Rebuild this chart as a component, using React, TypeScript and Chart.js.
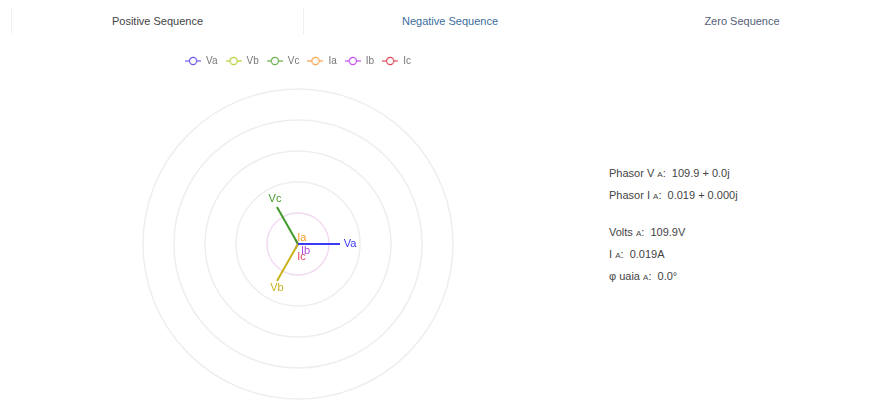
import React, { useEffect, useRef } from "react";
import { Chart, registerables } from "chart.js";

Chart.register(...registerables);

// ---- data ----
const seriesNames = ["Va", "Vb", "Vc", "Ia", "Ib", "Ic"];
const magnitudes = [109.9, 109.9, 109.9, 0.019, 0.019, 0.019];
const anglesDeg = [0, -120, 120, 0, -120, 120];
const isCurrent = [false, false, false, true, true, true];
const ringValues = [80, 160, 240, 320, 400];
const tabs = ["Positive Sequence", "Negative Sequence", "Zero Sequence"];
const infoLines = [
  ["Phasor V", "A", "109.9 + 0.0j"],
  ["Phasor I", "A", "0.019 + 0.000j"],
  ["Volts", "A", "109.9V"],
  ["I", "A", "0.019A"],
  ["φ uaia", "A", "0.0°"],
];

// ---- styles ----
const lineColors = ["#3b3bf5", "#c9b21a", "#3f9a2a", "#f59a2a", "#b04adf", "#e0405a"];
const legendColors = ["#6b5cf0", "#b7d33a", "#6aad4a", "#f7a050", "#c24ff0", "#e04a5a"];
const labelOffsets = [
  [10, 0],
  [0, 7],
  [-2, -8],
  [-1, -6],
  [10, 3],
  [6, 17],
];
const V_MAX = 400;
const I_MAX = 0.6;

function legendGlyph(color: string) {
  const c = document.createElement("canvas");
  c.width = 16;
  c.height = 10;
  const g = c.getContext("2d")!;
  g.strokeStyle = color;
  g.lineWidth = 1.2;
  g.beginPath();
  g.moveTo(0, 5);
  g.lineTo(16, 5);
  g.stroke();
  g.fillStyle = "#fff";
  g.beginPath();
  g.arc(8, 5, 3.6, 0, Math.PI * 2);
  g.fill();
  g.stroke();
  return c;
}

const legendMargin = {
  id: "legendMargin",
  beforeInit(chart: any) {
    const orig = chart.legend.fit;
    chart.legend.fit = function () {
      orig.bind(chart.legend)();
      this.height += 13;
    };
  },
};

const ringPlugin = {
  id: "rings",
  beforeDatasetsDraw(chart: any) {
    const x = chart.scales.x;
    const y = chart.scales.y;
    const cx = x.getPixelForValue(0);
    const cy = y.getPixelForValue(0);
    const ctx = chart.ctx;
    ctx.save();
    ringValues.forEach((v, i) => {
      const r = Math.abs(y.getPixelForValue(v) - cy);
      ctx.strokeStyle = i === 0 ? "rgba(238,210,238,0.8)" : "#eeeeee";
      ctx.lineWidth = 1.5;
      ctx.beginPath();
      ctx.arc(cx, cy, r, 0, Math.PI * 2);
      ctx.stroke();
    });
    ctx.restore();
  },
};

const labelPlugin = {
  id: "tipLabels",
  afterDatasetsDraw(chart: any) {
    const ctx = chart.ctx;
    ctx.save();
    ctx.font = "11px Arial, 'Liberation Sans', sans-serif";
    ctx.textAlign = "center";
    ctx.textBaseline = "middle";
    chart.data.datasets.forEach((ds: any, i: number) => {
      const meta = chart.getDatasetMeta(i);
      const pt = meta.data[1];
      if (!pt) return;
      const [ox, oy] = labelOffsets[i];
      ctx.fillStyle = lineColors[i];
      ctx.fillText(seriesNames[i], pt.x + ox, pt.y + oy);
    });
    ctx.restore();
  },
};

function PhasorChart() {
  const ref = useRef<HTMLCanvasElement>(null);
  useEffect(() => {
    const canvas = ref.current!;
    const W = 580;
    const areaH = 306;
    const xRange = (V_MAX * W) / areaH;
    const xRangeI = (I_MAX * W) / areaH;
    const datasets = seriesNames.map((name, i) => {
      const a = (anglesDeg[i] * Math.PI) / 180;
      const m = magnitudes[i];
      return {
        label: name,
        data: [
          { x: 0, y: 0 },
          { x: m * Math.cos(a), y: m * Math.sin(a) },
        ],
        showLine: true,
        borderColor: lineColors[i],
        backgroundColor: lineColors[i],
        borderWidth: 2,
        pointRadius: 0,
        xAxisID: isCurrent[i] ? "xI" : "x",
        yAxisID: isCurrent[i] ? "yI" : "y",
      };
    });
    const chart = new Chart(canvas, {
      type: "scatter",
      data: { datasets },
      options: {
        animation: false,
        responsive: false,
        maintainAspectRatio: false,
        layout: { padding: { top: 23, bottom: 11, left: 0, right: 0 } },
        scales: {
          x: { type: "linear", min: -xRange, max: xRange, display: false },
          y: { type: "linear", min: -V_MAX, max: V_MAX, display: false },
          xI: { type: "linear", min: -xRangeI, max: xRangeI, display: false },
          yI: { type: "linear", min: -I_MAX, max: I_MAX, display: false },
        },
        plugins: {
          tooltip: { enabled: false },
          legend: {
            display: true,
            position: "top",
            labels: {
              usePointStyle: true,
              pointStyleWidth: 16,
              boxHeight: 10,
              padding: 8,
              color: "#777",
              font: { size: 10, family: "Arial, 'Liberation Sans', sans-serif" },
              generateLabels: () =>
                seriesNames.map((n, i) => ({
                  text: n,
                  pointStyle: legendGlyph(legendColors[i]) as any,
                  fillStyle: "#fff",
                  strokeStyle: legendColors[i],
                  lineWidth: 0,
                  datasetIndex: i,
                  hidden: false,
                  fontColor: "#777",
                })),
            },
          },
        },
      },
      plugins: [legendMargin, ringPlugin, labelPlugin],
    });
    return () => chart.destroy();
  }, []);
  return <canvas ref={ref} width={580} height={385} style={{ display: "block" }} />;
}

export default function App() {
  const font = "Arial, 'Liberation Sans', sans-serif";
  return (
    <div style={{ position: "relative", width: 860, height: 400, fontFamily: font, margin: 0 }}>
      <div
        style={{
          position: "absolute",
          left: 3,
          top: 0,
          width: 876,
          height: 26,
          display: "flex",
          borderLeft: "1px solid #f2f2f2",
        }}
      >
        {tabs.map((t, i) => (
          <div
            key={t}
            style={{
              width: 292,
              height: 26,
              display: "flex",
              alignItems: "center",
              justifyContent: "center",
              fontSize: 11,
              color: i === 0 ? "#444" : i === 1 ? "#3d6d9e" : "#55607a",
              borderRight: i === 0 ? "1px solid #f0f0f0" : "none",
              boxSizing: "border-box",
            }}
          >
            {t}
          </div>
        ))}
      </div>
      <div style={{ position: "absolute", left: 0, top: 17 }}>
        <PhasorChart />
      </div>
      <div style={{ position: "absolute", left: 601, top: 154, fontSize: 11, color: "#444" }}>
        {infoLines.map((l, i) => (
          <div key={i} style={{ height: 22, lineHeight: "22px", marginTop: i === 2 ? 15 : 0, whiteSpace: "nowrap" }}>
            {l[0]} <span style={{ fontSize: 8 }}>{l[1]}</span>:&nbsp; {l[2]}
          </div>
        ))}
      </div>
    </div>
  );
}
